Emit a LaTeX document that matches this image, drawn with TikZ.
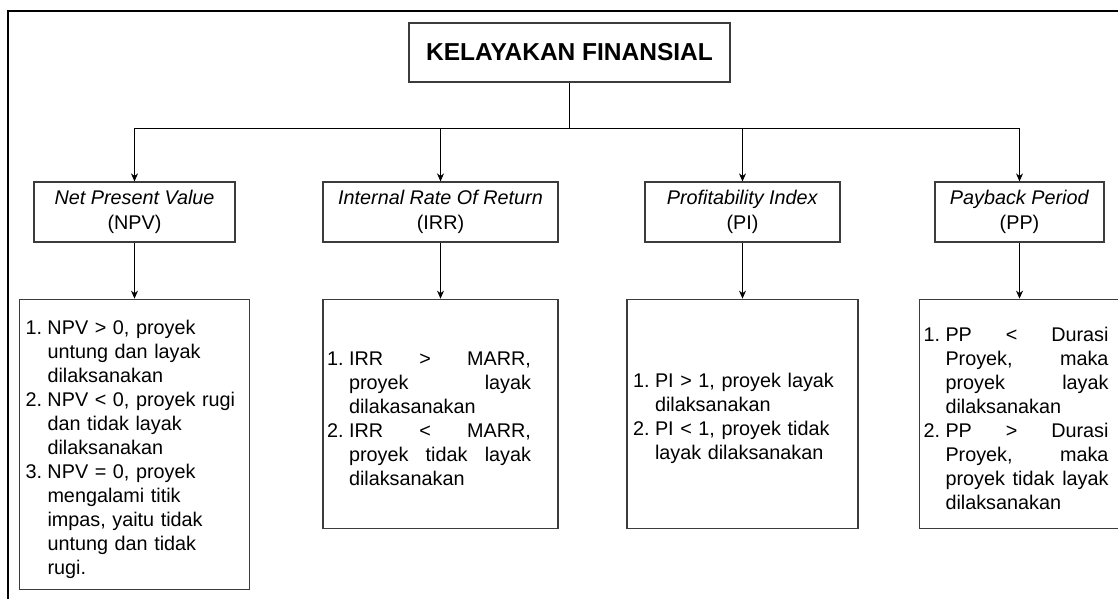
\documentclass[tikz,border=0pt]{standalone}
\usepackage{fontspec}
\setmainfont{Liberation Sans}
\usetikzlibrary{positioning,arrows.meta}
\definecolor{garis}{RGB}{60,60,60}
\newcommand{\butir}[2]{\par\noindent\hangindent=22pt\hangafter=1\makebox[22pt][l]{#1.}#2\par}
\newcommand{\kiri}{\leftskip=0pt\rightskip=0pt plus 1fil\parfillskip=0pt\hyphenpenalty=10000\hbadness=10000\relax}
\newcommand{\penuh}[1]{\leftskip=0pt\rightskip=#1\relax\parfillskip=0pt plus 1fil%
  \spaceskip=0.278em plus 3em minus 0.05em\hyphenpenalty=10000\tolerance=10000\hbadness=10000\relax}
\tikzset{
  jb/.style={draw=garis, line width=1.2pt, font=\bfseries\fontsize{24.5}{29}\selectfont,
             minimum width=321pt, minimum height=59pt, inner sep=2pt},
  mb/.style={draw=garis, line width=1.2pt, align=center, font=\fontsize{19.8}{25}\selectfont,
             minimum height=60pt, inner sep=2pt},
  kb/.style={draw=garis, line width=1.2pt, font=\fontsize{19.8}{24}\selectfont, inner ysep=4pt},
  ka/.style={-{Stealth[length=8pt,width=7pt]}, black, line width=0.9pt}
}
\begin{document}
\begin{tikzpicture}[x=1pt,y=-1pt]
  \useasboundingbox (0,0) rectangle (1118,599);
  \draw[line width=2.5pt] (8,605) -- (8,11) -- (1125,11);
  \node[jb] (judul) at (569.5,52.5) {KELAYAKAN FINANSIAL};
  \node[mb, minimum width=201pt] (npv) at (134.5,212) {\textit{Net Present Value}\\(NPV)};
  \node[mb, minimum width=235pt] (irr) at (440.5,212) {\textit{Internal Rate Of Return}\\(IRR)};
  \node[mb, minimum width=195pt] (pi) at (742.5,212) {\textit{Profitability Index}\\(PI)};
  \node[mb, minimum width=169pt] (pp) at (1019.5,212) {\textit{Payback Period}\\(PP)};
  \node[kb, text width=218pt, inner xsep=6pt, minimum height=290pt, below=56pt of npv] (knpv) {\kiri
    \butir{1}{NPV > 0, proyek\newline untung dan layak\newline dilaksanakan}
    \butir{2}{NPV < 0, proyek rugi\newline dan tidak layak\newline dilaksanakan}
    \butir{3}{NPV = 0, proyek\newline mengalami titik\newline impas, yaitu tidak\newline untung dan tidak\newline rugi.}};
  \node[kb, text width=227pt, inner xsep=4pt, minimum height=229pt, below=56pt of irr] (kirr) {\penuh{23pt}
    \butir{1}{IRR > MARR, proyek layak dilakasanakan}
    \butir{2}{IRR < MARR, proyek tidak layak dilaksanakan}};
  \node[kb, text width=219pt, inner xsep=6pt, minimum height=229pt, below=56pt of pi] (kpi) {\kiri
    \butir{1}{PI > 1, proyek layak\newline dilaksanakan}
    \butir{2}{PI < 1, proyek tidak\newline layak dilaksanakan}};
  \node[kb, text width=192pt, inner xsep=4pt, minimum height=229pt, below=56pt of pp] (kpp) {\penuh{7pt}
    \butir{1}{PP < Durasi Proyek, maka proyek layak dilaksanakan}
    \butir{2}{PP > Durasi Proyek, maka proyek tidak layak dilaksanakan}};
  \draw[line width=0.9pt] (judul.south) -- ++(0,46) coordinate (cabang);
  \foreach \n in {npv,irr,pi,pp} {
    \draw[ka] (cabang) -| (\n.north);
    \draw[ka] (\n.south) -- (k\n.north);
  }
\end{tikzpicture}
\end{document}
